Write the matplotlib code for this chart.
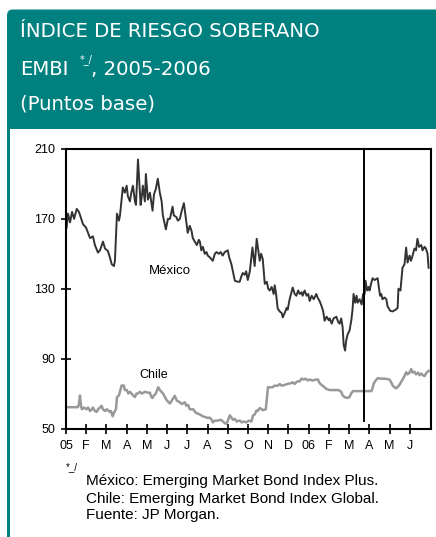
import matplotlib
matplotlib.use('Agg')
import matplotlib.pyplot as plt
from matplotlib.patches import Rectangle, FancyBboxPatch

# Months since Jan 2005 (0 = Jan 1, 2005), values in basis points
mex_t = [0.03, 0.1, 0.2, 0.3, 0.4, 0.53, 0.64, 0.84, 0.99, 1.09, 1.19, 1.33, 1.43, 1.58, 1.68,
         1.83, 1.93, 2.07, 2.17, 2.26, 2.37, 2.42, 2.52, 2.62, 2.67, 2.81, 2.91, 3.0, 3.06, 3.16,
         3.23, 3.31, 3.41, 3.46, 3.56, 3.63, 3.69, 3.75, 3.8, 3.9, 3.95, 4.05, 4.15, 4.28, 4.35,
         4.44, 4.54, 4.64, 4.73, 4.79, 4.94, 5.04, 5.14, 5.27, 5.33, 5.46, 5.53, 5.63, 5.73, 5.83,
         5.93, 6.02, 6.12, 6.21, 6.27, 6.37, 6.47, 6.57, 6.62, 6.69, 6.77, 6.86, 6.95, 7.01, 7.11,
         7.26, 7.36, 7.44, 7.56, 7.65, 7.75, 7.85, 8.0, 8.07, 8.18, 8.27, 8.35, 8.49, 8.59, 8.67,
         8.74, 8.84, 8.91, 8.99, 9.09, 9.22, 9.28, 9.33, 9.43, 9.51, 9.58, 9.65, 9.73, 9.83, 9.93,
         10.0, 10.07, 10.17, 10.27, 10.32, 10.39, 10.47, 10.57, 10.67, 10.72, 10.81, 10.91, 10.96,
         11.06, 11.21, 11.31, 11.39, 11.48, 11.56, 11.65, 11.7, 11.8, 11.9, 11.98, 12.05, 12.15,
         12.25, 12.38, 12.44, 12.54, 12.64, 12.72, 12.79, 12.89, 12.99, 13.04, 13.14, 13.23, 13.37,
         13.46, 13.53, 13.61, 13.68, 13.73, 13.8, 13.85, 13.93, 14.02, 14.11, 14.17, 14.22, 14.3,
         14.37, 14.42, 14.52, 14.62, 14.69, 14.77, 14.81, 14.89, 14.96, 15.01, 15.09, 15.16, 15.26,
         15.41, 15.48, 15.53, 15.59, 15.65, 15.75, 15.84, 15.9, 16.03, 16.15, 16.3, 16.4, 16.44,
         16.54, 16.64, 16.74, 16.82, 16.89, 16.99, 17.06, 17.14, 17.23, 17.31, 17.38, 17.46, 17.57,
         17.63, 17.73, 17.8, 17.88, 17.93]
mex_v = [165, 173, 168, 174, 170, 175.7, 174, 167, 165, 162, 159, 160, 155, 150.7, 152,
         157, 153, 151.7, 148, 144, 143, 146, 173, 169, 172, 188, 185, 189, 183, 180,
         185, 189, 180, 178, 204, 190, 178, 183, 189, 180, 195.7, 181, 185, 174.7, 184,
         187, 193, 185, 180, 172, 164, 170, 170, 177, 172, 171, 169, 170, 175, 179,
         170, 162, 166, 163, 159, 157, 155, 158, 157, 152, 154, 150, 151, 149, 148,
         146, 150, 151, 150, 151, 149, 151, 152, 148, 144, 139, 134.6, 134, 134, 137,
         139, 138, 140, 135, 140, 153.6, 148, 143, 158.6, 152, 146, 150, 147, 132.8, 134,
         130, 129, 131, 127, 132, 127, 118.6, 117, 116, 113.6, 116, 119, 118,
         124, 130.7, 127, 126, 129, 127, 128, 126, 129, 126, 127, 123, 126,
         124, 127, 125, 123, 120, 117, 111.7, 114, 112, 113, 110, 113, 114,
         111, 110, 113, 108, 98, 94.6, 100, 104, 106, 112, 118, 127, 122,
         126, 122, 124, 121, 127, 127, 134.6, 129, 131, 129, 133, 136, 135,
         136, 130, 126, 127, 124, 125, 124, 120, 117.4, 117, 118, 119, 130,
         129, 142, 144, 153.6, 145, 149, 146, 149, 153, 152, 158.6, 154, 155,
         152, 154, 153, 150, 142]

chl_t = [0.03, 0.59, 0.64, 0.69, 0.74, 0.79, 0.89, 1.02, 1.09, 1.19, 1.28, 1.33, 1.43, 1.52, 1.58,
         1.68, 1.76, 1.83, 1.93, 2.02, 2.17, 2.22, 2.31, 2.37, 2.47, 2.52, 2.62, 2.69, 2.75, 2.86,
         2.91, 3.01, 3.08, 3.16, 3.24, 3.31, 3.41, 3.48, 3.56, 3.65, 3.75, 3.9, 4.05, 4.15, 4.22,
         4.28, 4.35, 4.44, 4.56, 4.64, 4.8, 4.89, 4.99, 5.14, 5.23, 5.38, 5.48, 5.63, 5.73, 5.88,
         5.95, 6.04, 6.12, 6.29, 6.42, 6.53, 6.62, 6.78, 6.91, 7.01, 7.11, 7.21, 7.26, 7.36, 7.51,
         7.65, 7.77, 7.85, 7.94, 8.02, 8.1, 8.17, 8.25, 8.35, 8.44, 8.59, 8.69, 8.79, 8.92, 9.04,
         9.17, 9.25, 9.33, 9.42, 9.48, 9.58, 9.68, 9.74, 9.88, 9.99, 10.12, 10.22, 10.3, 10.48,
         10.57, 10.67, 10.81, 10.96, 11.15, 11.21, 11.31, 11.39, 11.46, 11.56, 11.65, 11.75, 11.85,
         11.95, 12.05, 12.2, 12.35, 12.46, 12.54, 12.63, 12.74, 12.87, 13.04, 13.28, 13.48, 13.61,
         13.68, 13.78, 13.93, 14.02, 14.1, 14.19, 14.52, 15.1, 15.16, 15.21, 15.31, 15.42, 15.6,
         15.8, 16.0, 16.1, 16.16, 16.25, 16.33, 16.42, 16.49, 16.59, 16.66, 16.74, 16.82, 16.89,
         16.99, 17.07, 17.14, 17.23, 17.31, 17.41, 17.48, 17.57, 17.65, 17.73, 17.83, 17.94]
chl_v = [62.2, 62.2, 64, 68.9, 63, 61, 62, 61, 62, 60, 61, 62, 60, 59.5, 61,
         62, 63, 61, 60, 61, 59.5, 60, 57, 59, 61, 67.9, 69, 72, 74.6, 74.6,
         72, 72, 70, 71, 70, 69, 68, 70, 70, 71, 70, 71, 70.5, 70.5, 68,
         67.5, 69, 70, 73.6, 72, 70, 68, 66, 64.3, 66, 68.7, 66, 65, 64, 65,
         63, 63.5, 61, 61, 59, 58.5, 58, 56.9, 56.5, 56, 56.2, 55, 53.5, 54.5, 54.5,
         55, 54, 53, 52.7, 55, 57.5, 56.5, 55, 55.5, 54, 54.6, 53.5, 54, 53.5, 54.5,
         54, 57.5, 58, 60.3, 60, 61.7, 61, 60.5, 61, 73.6, 73.6, 73.6, 74.5, 74.5,
         75.5, 74.5, 75, 75.5, 76, 76.5, 75.5, 76.5, 77, 77, 78.6, 78, 78.5,
         77.5, 78, 77.5, 78, 78, 76, 75, 74, 72.7, 72, 72, 72, 71,
         69, 67.9, 67.5, 68, 70, 71.4, 71.4, 71.4, 73, 75.5, 77.5, 78.8, 78.5,
         78.5, 78, 76, 74.5, 73.5, 73, 74, 75, 77, 78.5, 80, 82.2, 81,
         82, 84, 82, 82.5, 81, 82, 80.5, 81.5, 80.5, 80, 82, 83]

month_labels = ['05', 'F', 'M', 'A', 'M', 'J', 'J', 'A', 'S', 'O', 'N', 'D',
                '06', 'F', 'M', 'A', 'M', 'J']
y_ticks = [50, 90, 130, 170, 210]
marker_month = 14.72  # vertical reference line

W, H = 436, 537
TEAL = '#00807f'


def fx(x):
    return x / W


def fy(y):
    return 1 - y / H


fig = plt.figure(figsize=(W / 100, H / 100), dpi=100)
fig.patch.set_facecolor('white')

# header band
fig.patches.append(FancyBboxPatch((fx(7), fy(60)), fx(460 - 7), fy(9.5) - fy(60),
                                  boxstyle='round,pad=0,rounding_size=0.012',
                                  transform=fig.transFigure, facecolor=TEAL,
                                  edgecolor='none', zorder=0))
fig.patches.append(Rectangle((fx(7), fy(129)), fx(436 - 7), fy(30) - fy(129),
                             transform=fig.transFigure, facecolor=TEAL,
                             edgecolor='none', zorder=0))
# left border of the white box
fig.patches.append(Rectangle((fx(7), 0), fx(2.5), fy(129),
                             transform=fig.transFigure, facecolor=TEAL,
                             edgecolor='none', zorder=0))

tfont = dict(family='DejaVu Sans', color='white', fontsize=14.2)
fig.text(fx(20), fy(37), 'ÍNDICE DE RIESGO SOBERANO', va='baseline', **tfont)
fig.text(fx(20), fy(75), 'EMBI', va='baseline', **tfont)
fig.text(fx(80), fy(62), '*_/', va='baseline', family='DejaVu Sans', color='white', fontsize=7)
fig.text(fx(91), fy(75), ', 2005-2006', va='baseline', **tfont)
fig.text(fx(20), fy(110), '(Puntos base)', va='baseline', **tfont)

ax = fig.add_axes([fx(66), fy(428.5), fx(431 - 66), fy(149) - fy(428.5)])
ax.plot(chl_t, chl_v, color='#999999', lw=1.8)
ax.plot(mex_t, mex_v, color='#333333', lw=1.4)
ax.plot([marker_month, marker_month], [54.5, 210], color='black', lw=1.4)

ax.set_xlim(0, 18.05)
ax.set_ylim(50, 210)
ax.set_yticks(y_ticks)
ax.set_xticks(range(len(month_labels)))
ax.set_xticklabels(month_labels)
for s in ax.spines.values():
    s.set_linewidth(1.5)
    s.set_color('black')
ax.tick_params(direction='inout', length=6.5, width=1.2, labelsize=9)
ax.tick_params(axis='y', pad=4.5)
ax.tick_params(axis='x', pad=5)
for lab in ax.get_xticklabels() + ax.get_yticklabels():
    lab.set_family('Liberation Sans')

ax.text(5.14, 140.3, 'México', ha='center', va='center', fontsize=9.5, family='Liberation Sans')
ax.text(4.35, 80.9, 'Chile', ha='center', va='center', fontsize=9, family='Liberation Sans')

ffont = dict(family='Liberation Sans', fontsize=11, color='black')
fig.text(fx(66), fy(470), '*_/', fontsize=7, family='Liberation Sans', va='baseline')
fig.text(fx(86), fy(485.5), 'México: Emerging Market Bond Index Plus.', va='baseline', **ffont)
fig.text(fx(86), fy(502.5), 'Chile: Emerging Market Bond Index Global.', va='baseline', **ffont)
fig.text(fx(86), fy(519.5), 'Fuente: JP Morgan.', va='baseline', **ffont)

fig.savefig('out.png', dpi=100, facecolor='white')
